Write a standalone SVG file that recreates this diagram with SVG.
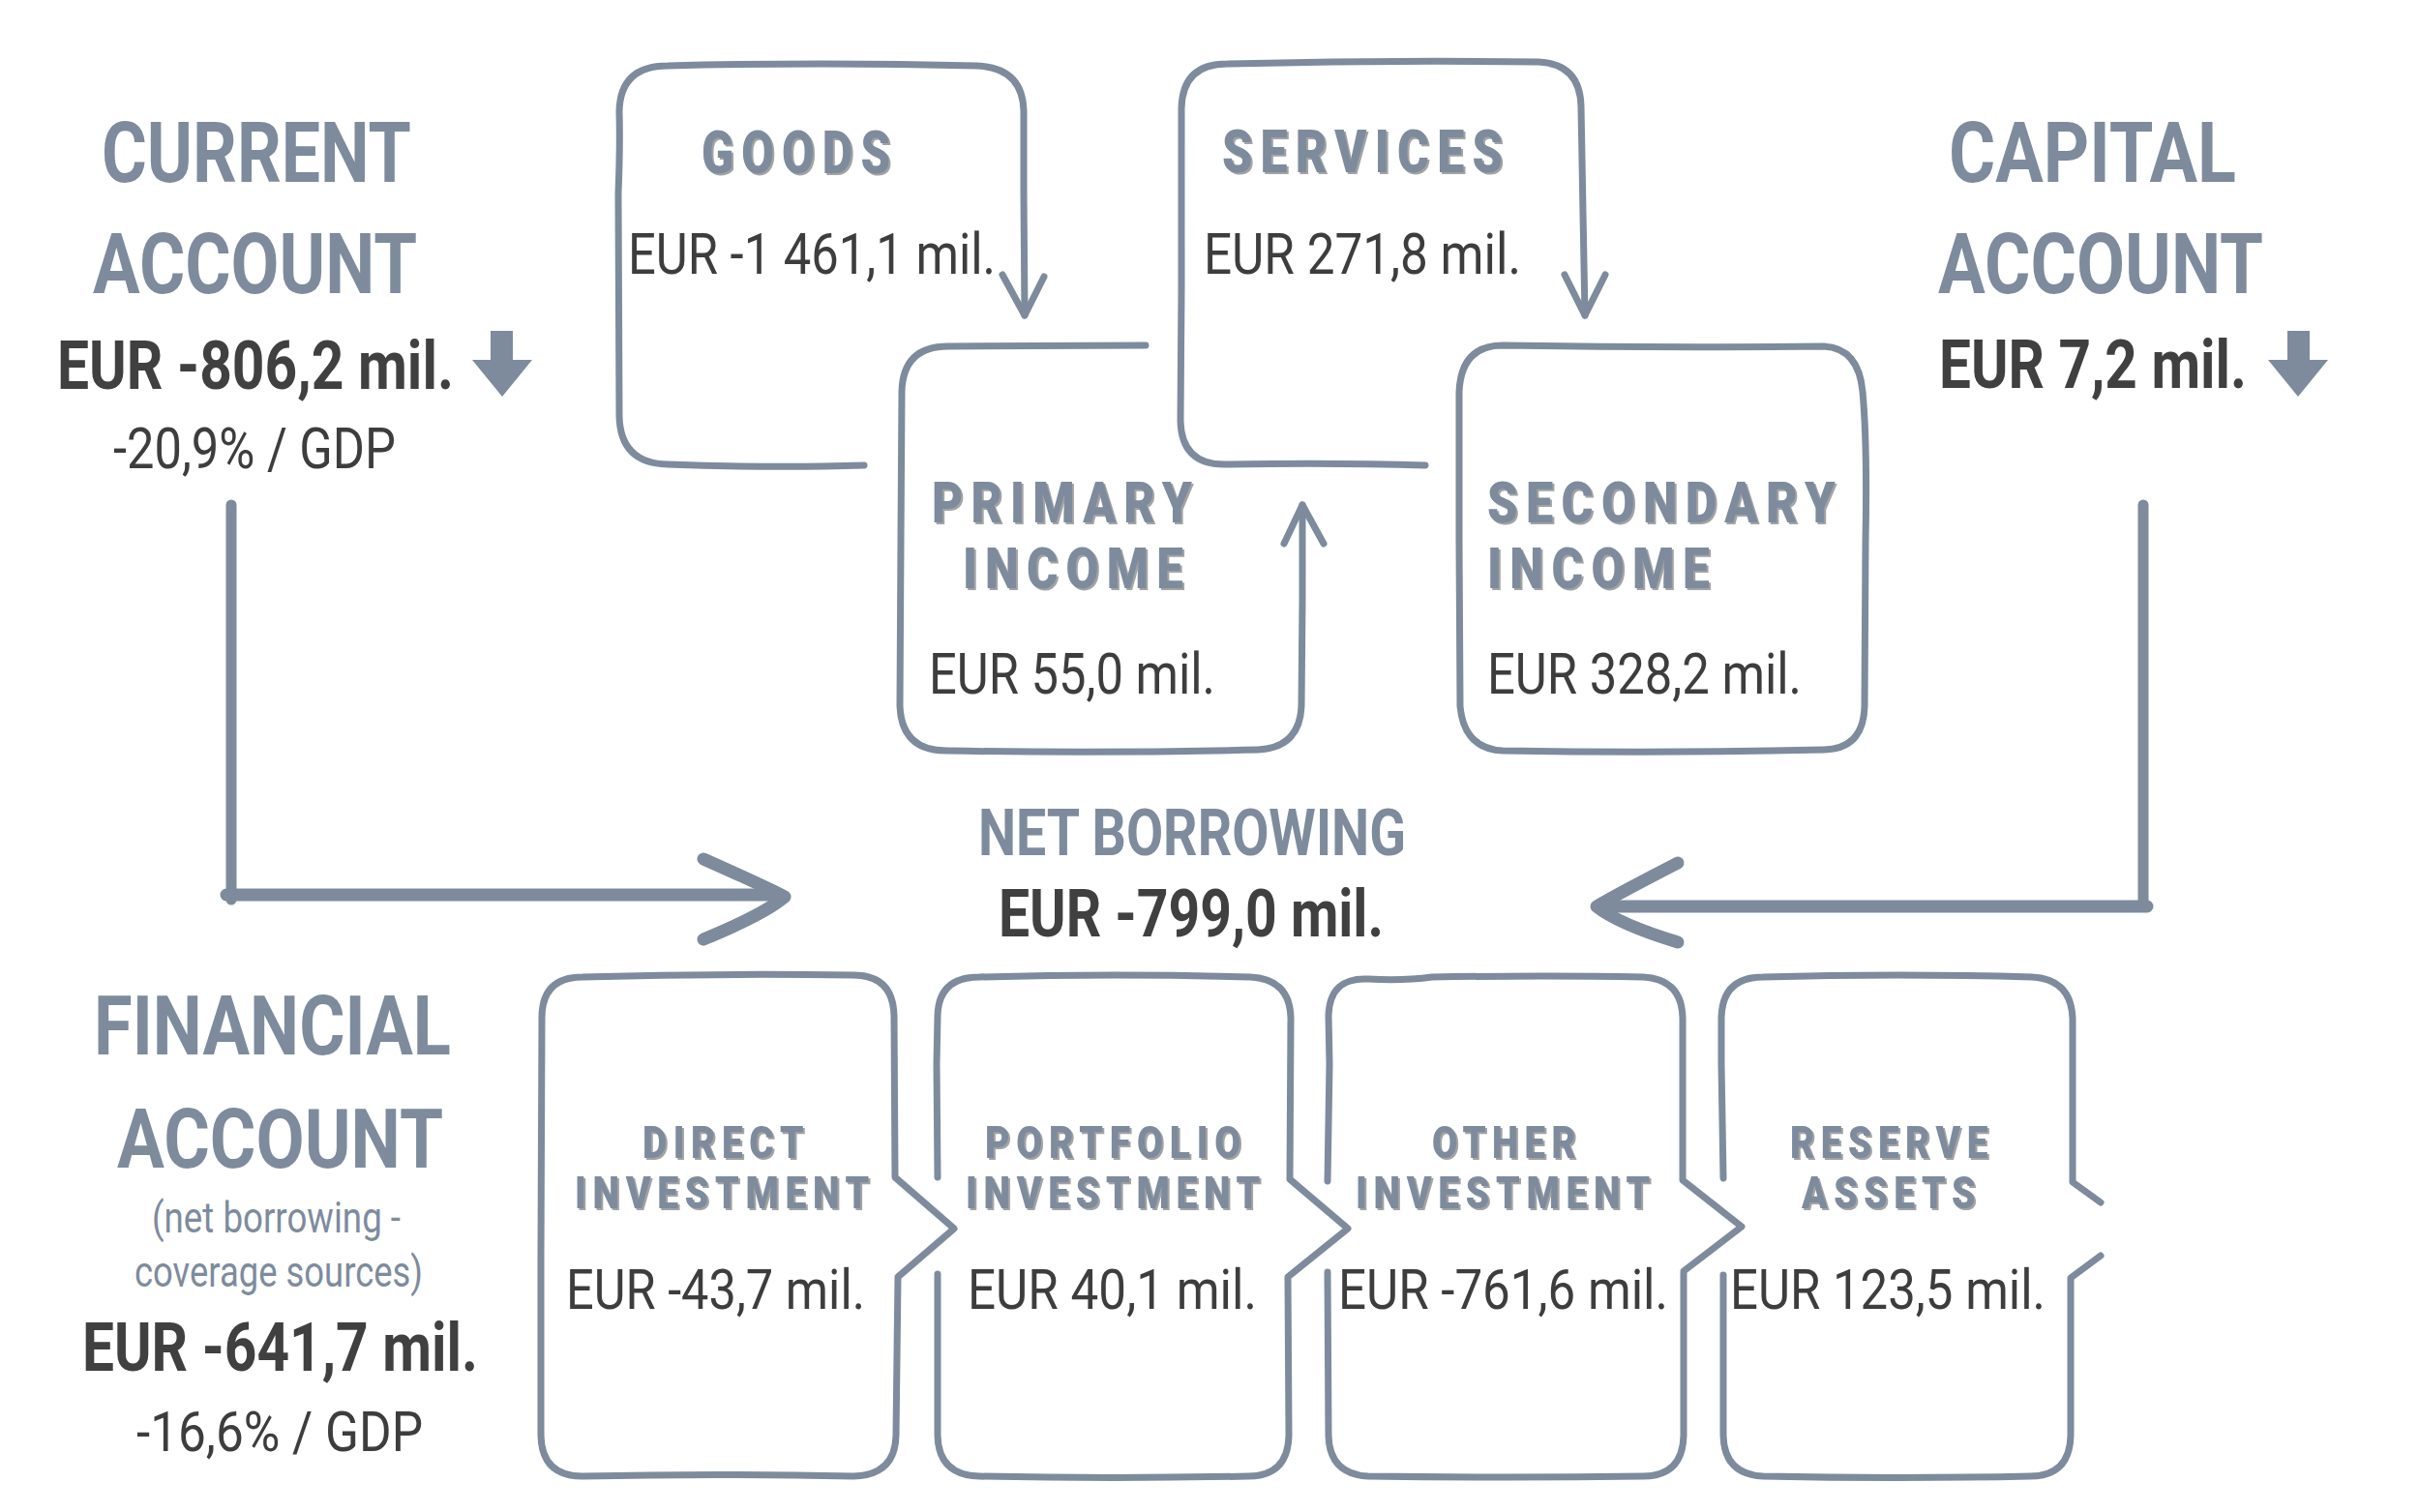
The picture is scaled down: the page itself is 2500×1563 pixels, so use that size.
<svg xmlns="http://www.w3.org/2000/svg" width="2500" height="1563" viewBox="0 0 2500 1563">
<defs>
<filter id="sh" x="-5%" y="-10%" width="110%" height="130%">
<feOffset in="SourceAlpha" dx="2" dy="2" result="o"/>
<feFlood flood-color="#a3a3a3" result="c"/>
<feComposite in="c" in2="o" operator="in" result="s"/>
<feMerge><feMergeNode in="s"/><feMergeNode in="SourceGraphic"/></feMerge>
</filter>
</defs>
<style>
.bg{fill:#ffffff}
.box{fill:none;stroke:#7d8b9d;stroke-width:7;stroke-linecap:round;stroke-linejoin:round}
.conn{fill:none;stroke:#7d8b9d;stroke-linecap:round;stroke-linejoin:round}
.title{font-family:"Roboto","Liberation Sans",sans-serif;font-weight:700;fill:#7d8b9d}
.val{font-family:"Roboto","Liberation Sans",sans-serif;font-weight:700;fill:#404040}
.num{font-family:"Roboto","Liberation Sans",sans-serif;font-weight:400;fill:#3d3d3d}
.note{font-family:"Roboto","Liberation Sans",sans-serif;font-weight:400;fill:#7d8b9d}
.hd{font-family:"Roboto","Liberation Sans",sans-serif;font-weight:900;fill:#7d8b9d;filter:url(#sh)}
.tri{fill:#7d8b9d}
</style>
<rect class="bg" x="0" y="0" width="2500" height="1563"/>

<g id="current-account">
<text class="title" x="105" y="188" font-size="88" textLength="320" lengthAdjust="spacingAndGlyphs">CURRENT</text>
<text class="title" x="96" y="303" font-size="88" textLength="335" lengthAdjust="spacingAndGlyphs">ACCOUNT</text>
<text class="val" x="59" y="402" font-size="70" textLength="410" lengthAdjust="spacingAndGlyphs">EUR -806,2 mil.</text>
<path class="tri" d="M507 342 H530 V372 H550 L519 410 L488 372 H507 Z"/>
<text class="num" x="117" y="484" font-size="59" textLength="292" lengthAdjust="spacingAndGlyphs">-20,9% / GDP</text>
</g>

<g id="capital-account">
<text class="title" x="2014" y="188" font-size="88" textLength="297" lengthAdjust="spacingAndGlyphs">CAPITAL</text>
<text class="title" x="2003" y="303" font-size="88" textLength="336" lengthAdjust="spacingAndGlyphs">ACCOUNT</text>
<text class="val" x="2004" y="401" font-size="70" textLength="318" lengthAdjust="spacingAndGlyphs">EUR 7,2 mil.</text>
<path class="tri" d="M2364 342 H2387 V372 H2406 L2375 410 L2344 372 H2364 Z"/>
</g>

<g id="goods">
<path class="box" d="M893 481 Q800 484 690 480 Q641 479 640 430 L639 200 Q641 150 640 115 Q641 68 690 68 Q850 64 1010 68 Q1057 70 1058 115 L1058 200 L1059 326"/>
<text class="hd" x="725" y="179" font-size="61" letter-spacing="10" textLength="203" lengthAdjust="spacingAndGlyphs">GOODS</text>
<text class="num" x="649" y="283" font-size="60" textLength="380" lengthAdjust="spacingAndGlyphs">EUR -1 461,1 mil.</text>
</g>

<g id="services">
<path class="box" d="M1473 481 Q1380 478 1265 480 Q1221 480 1220 435 L1221 300 L1221 112 Q1222 66 1268 66 Q1430 62 1590 64 Q1633 66 1634 110 L1636 220 L1638 326"/>
<text class="hd" x="1263" y="178" font-size="61" letter-spacing="10" textLength="298" lengthAdjust="spacingAndGlyphs">SERVICES</text>
<text class="num" x="1244" y="283" font-size="60" textLength="328" lengthAdjust="spacingAndGlyphs">EUR 271,8 mil.</text>
</g>

<g id="primary-income">
<path class="box" d="M1184 357 L980 358 Q933 358 932 405 L931 560 L930 730 Q932 776 978 776 Q1140 779 1300 775 Q1343 773 1345 730 L1346 620 L1346 522"/>
<text class="hd" x="963" y="540" font-size="60" letter-spacing="10" textLength="277" lengthAdjust="spacingAndGlyphs">PRIMARY</text>
<text class="hd" x="995" y="608" font-size="60" letter-spacing="10" textLength="236" lengthAdjust="spacingAndGlyphs">INCOME</text>
<text class="num" x="960" y="717" font-size="60" textLength="296" lengthAdjust="spacingAndGlyphs">EUR 55,0 mil.</text>
</g>

<g id="secondary-income">
<path class="box" d="M1553 357 Q1720 360 1885 358 Q1921 360 1925 405 Q1930 460 1928 560 L1927 730 Q1926 774 1885 775 Q1720 779 1553 776 Q1513 774 1509 730 L1508 560 L1508 405 Q1510 357 1553 357 Z"/>
<text class="hd" x="1537" y="540" font-size="60" letter-spacing="10" textLength="368" lengthAdjust="spacingAndGlyphs">SECONDARY</text>
<text class="hd" x="1537" y="608" font-size="60" letter-spacing="10" textLength="238" lengthAdjust="spacingAndGlyphs">INCOME</text>
<text class="num" x="1537" y="717" font-size="60" textLength="325" lengthAdjust="spacingAndGlyphs">EUR 328,2 mil.</text>
</g>

<g id="net-borrowing">
<text class="title" x="1011" y="884" font-size="66" textLength="442" lengthAdjust="spacingAndGlyphs">NET BORROWING</text>
<text class="val" x="1032" y="968" font-size="68" textLength="398" lengthAdjust="spacingAndGlyphs">EUR -799,0 mil.</text>
</g>

<g id="financial-account">
<text class="title" x="97" y="1090" font-size="86" textLength="369" lengthAdjust="spacingAndGlyphs">FINANCIAL</text>
<text class="title" x="121" y="1207" font-size="86" textLength="337" lengthAdjust="spacingAndGlyphs">ACCOUNT</text>
<text class="note" x="157" y="1274" font-size="44" textLength="257" lengthAdjust="spacingAndGlyphs">(net borrowing -</text>
<text class="note" x="139" y="1330" font-size="44" textLength="298" lengthAdjust="spacingAndGlyphs">coverage sources)</text>
<text class="val" x="85" y="1417" font-size="70" textLength="409" lengthAdjust="spacingAndGlyphs">EUR -641,7 mil.</text>
<text class="num" x="141" y="1500" font-size="58" textLength="296" lengthAdjust="spacingAndGlyphs">-16,6% / GDP</text>
</g>

<g id="direct-investment">
<path class="box" d="M925 1217 L924 1050 Q923 1008 882 1008 Q740 1006 602 1010 Q560 1010 560 1052 L559 1300 L559 1484 Q560 1526 602 1526 Q740 1523 882 1526 Q925 1525 926 1484 L928 1320 L986 1270 Z"/>
<text class="hd" x="664" y="1197" font-size="47" letter-spacing="8" textLength="173" lengthAdjust="spacingAndGlyphs">DIRECT</text>
<text class="hd" x="594" y="1249" font-size="47" letter-spacing="8" textLength="311" lengthAdjust="spacingAndGlyphs">INVESTMENT</text>
<text class="num" x="585" y="1353" font-size="58" textLength="309" lengthAdjust="spacingAndGlyphs">EUR -43,7 mil.</text>
</g>

<g id="portfolio-investment">
<path class="box" d="M969 1217 L968 1100 L969 1050 Q970 1010 1012 1010 Q1150 1006 1292 1010 Q1333 1012 1334 1052 L1333 1219 L1393 1270 L1331 1320 L1332 1484 Q1331 1526 1290 1526 Q1150 1529 1012 1526 Q970 1525 969 1484 L969 1317"/>
<text class="hd" x="1018" y="1197" font-size="47" letter-spacing="8" textLength="271" lengthAdjust="spacingAndGlyphs">PORTFOLIO</text>
<text class="hd" x="998" y="1249" font-size="47" letter-spacing="8" textLength="311" lengthAdjust="spacingAndGlyphs">INVESTMENT</text>
<text class="num" x="1000" y="1353" font-size="58" textLength="299" lengthAdjust="spacingAndGlyphs">EUR 40,1 mil.</text>
</g>

<g id="other-investment">
<path class="box" d="M1372 1221 L1374 1100 L1373 1050 Q1374 1010 1414 1012 Q1450 1014 1480 1010 Q1600 1008 1698 1010 Q1738 1012 1739 1052 L1739 1220 L1800 1268 L1740 1314 L1740 1484 Q1739 1526 1698 1526 Q1560 1528 1414 1526 Q1374 1524 1373 1484 L1372 1315"/>
<text class="hd" x="1480" y="1197" font-size="47" letter-spacing="8" textLength="155" lengthAdjust="spacingAndGlyphs">OTHER</text>
<text class="hd" x="1401" y="1249" font-size="47" letter-spacing="8" textLength="311" lengthAdjust="spacingAndGlyphs">INVESTMENT</text>
<text class="num" x="1383" y="1353" font-size="58" textLength="341" lengthAdjust="spacingAndGlyphs">EUR -761,6 mil.</text>
</g>

<g id="reserve-assets">
<path class="box" d="M1781 1218 L1779 1100 L1779 1052 Q1780 1010 1822 1010 Q1960 1006 2100 1010 Q2140 1012 2142 1052 L2142 1222 L2171 1243"/>
<path class="box" d="M2171 1298 L2140 1321 L2140 1484 Q2139 1526 2098 1526 Q1960 1529 1822 1526 Q1782 1524 1781 1484 L1781 1318"/>
<text class="hd" x="1850" y="1197" font-size="47" letter-spacing="8" textLength="211" lengthAdjust="spacingAndGlyphs">RESERVE</text>
<text class="hd" x="1862" y="1249" font-size="47" letter-spacing="8" textLength="186" lengthAdjust="spacingAndGlyphs">ASSETS</text>
<text class="num" x="1788" y="1353" font-size="58" textLength="326" lengthAdjust="spacingAndGlyphs">EUR 123,5 mil.</text>
</g>

<g id="connectors">
<path class="conn" stroke-width="7" d="M1036 284 L1059 326 L1079 286"/>
<path class="conn" stroke-width="7" d="M1617 284 L1638 326 L1659 284"/>
<path class="conn" stroke-width="7" d="M1327 562 L1346 522 L1368 562"/>
<line class="conn" stroke-width="11" stroke-linecap="butt" x1="239" y1="522" x2="239" y2="930"/>
<line class="conn" stroke-width="13" x1="234" y1="925" x2="806" y2="925"/>
<path class="conn" stroke-width="13" d="M727 888 Q790 916 811 927 Q790 945 727 971"/>
<line class="conn" stroke-width="11" stroke-linecap="butt" x1="2215" y1="522" x2="2215" y2="932"/>
<line class="conn" stroke-width="13" x1="2219" y1="937" x2="1655" y2="937"/>
<path class="conn" stroke-width="13" d="M1734 892 Q1670 925 1650 937 Q1672 955 1734 974"/>
</g>
</svg>
